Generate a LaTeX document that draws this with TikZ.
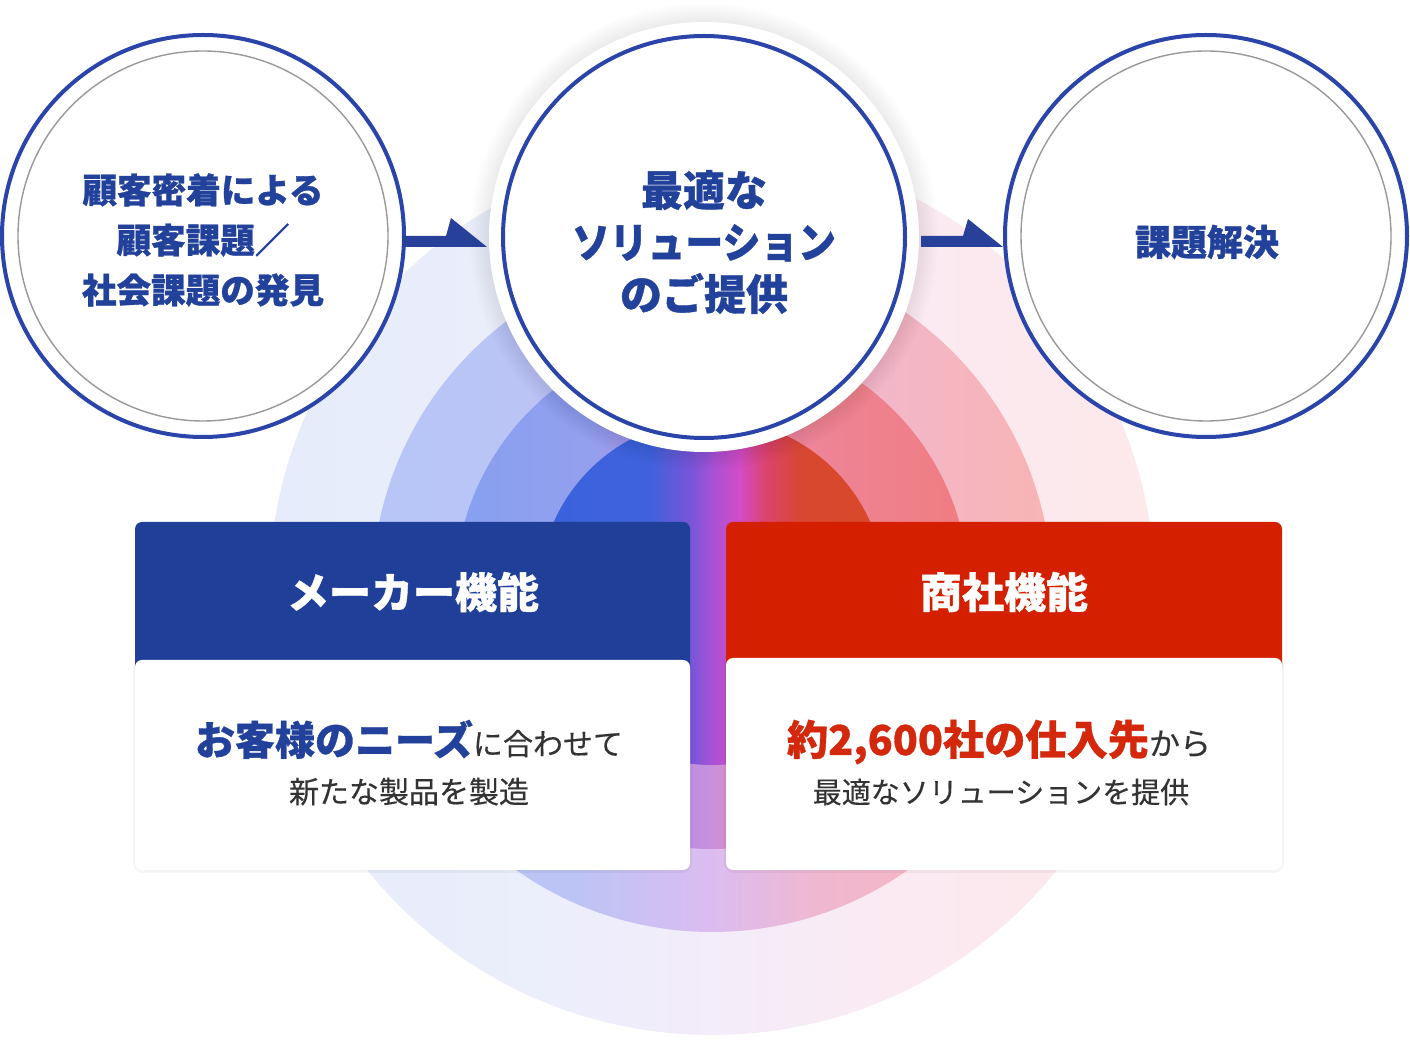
\documentclass[tikz,border=0pt]{standalone}
\usepackage{fontspec}
\setmainfont{Noto Sans CJK JP}
\newfontfamily\jph[BoldFeatures={FakeBold=0.8}]{Noto Sans CJK JP}
\newfontfamily\jpm[FakeBold=0.3]{Noto Sans CJK JP}
\usetikzlibrary{calc}

\definecolor{ringblue}{HTML}{2A44AA}
\definecolor{txtblue}{HTML}{21419A}
\definecolor{arrowblue}{HTML}{27409A}
\definecolor{hdrblue}{HTML}{1F3F99}
\definecolor{hdrred}{HTML}{D41F00}
\definecolor{txtred}{HTML}{D4280C}
\definecolor{txtgray}{HTML}{333333}

\definecolor{rA1}{HTML}{E6ECFB}
\definecolor{rA2}{HTML}{EBEEFB}
\definecolor{rA3}{HTML}{F3ECFA}
\definecolor{rA4}{HTML}{FBEAF2}
\definecolor{rA5}{HTML}{FDE8EA}

\definecolor{rB1}{HTML}{B6C6F6}
\definecolor{rB2}{HTML}{BCC4F5}
\definecolor{rB3}{HTML}{DCBCF0}
\definecolor{rB4}{HTML}{F0B8D0}
\definecolor{rB5}{HTML}{F8B4B4}

\definecolor{rC1}{HTML}{86A0F0}
\definecolor{rC2}{HTML}{93A0EE}
\definecolor{rC3}{HTML}{B890E0}
\definecolor{rC4}{HTML}{C890DC}
\definecolor{rC5}{HTML}{E48CB8}
\definecolor{rC6}{HTML}{EE8498}
\definecolor{rC7}{HTML}{F07C80}

\definecolor{rD1}{HTML}{3A62DC}
\definecolor{rD2}{HTML}{3F62DC}
\definecolor{rD3}{HTML}{7856D8}
\definecolor{rD4}{HTML}{A852D6}
\definecolor{rD5}{HTML}{D24CC6}
\definecolor{rD6}{HTML}{DC4468}
\definecolor{rD7}{HTML}{D8472F}
\definecolor{rD8}{HTML}{D84A2A}

\pgfdeclarehorizontalshading{ringA}{100bp}{color(0bp)=(rA1); color(25bp)=(rA1); color(40bp)=(rA2); color(50bp)=(rA3); color(60bp)=(rA4); color(75bp)=(rA5); color(100bp)=(rA5)}
\pgfdeclarehorizontalshading{ringB}{100bp}{color(0bp)=(rB1); color(25bp)=(rB1); color(40bp)=(rB2); color(50bp)=(rB3); color(58bp)=(rB4); color(75bp)=(rB5); color(100bp)=(rB5)}
\pgfdeclarehorizontalshading{ringC}{100bp}{color(0bp)=(rC1); color(25bp)=(rC1); color(38bp)=(rC2); color(47bp)=(rC3); color(50bp)=(rC4); color(53bp)=(rC5); color(60bp)=(rC6); color(75bp)=(rC7); color(100bp)=(rC7)}
\pgfdeclarehorizontalshading{ringD}{100bp}{color(0bp)=(rD1); color(25bp)=(rD1); color(41bp)=(rD2); color(47bp)=(rD3); color(50bp)=(rD4); color(54bp)=(rD5); color(58bp)=(rD6); color(63bp)=(rD7); color(75bp)=(rD8); color(100bp)=(rD8)}

\begin{document}
\begin{tikzpicture}[x=0.5pt,y=-0.5pt,
  sidecirc/.style={circle, draw=ringblue, line width=2pt, fill=white, minimum size=201pt, inner sep=0pt, outer sep=0pt},
  innercirc/.style={circle, draw=black!40, line width=0.7pt, minimum size=185pt, inner sep=0pt, outer sep=0pt},
  halo/.style={circle, fill=white, minimum size=215pt, inner sep=0pt, outer sep=0pt},
  maincirc/.style={circle, draw=ringblue, line width=2pt, minimum size=201pt, inner sep=0pt, outer sep=0pt},
  circtext/.style={align=center, text=txtblue, inner sep=0pt},
  hdrtext/.style={text=white, inner sep=0pt, font=\jph\fontsize{21pt}{25pt}\selectfont\bfseries},
  bodytext/.style={text=txtgray, inner sep=0pt, anchor=base},
  arrowfill/.style={fill=arrowblue}
]
\useasboundingbox (0,0) rectangle (1410,1042);
\fill[white] (0,0) rectangle (1410,1042);

% concentric rings
\coordinate (rc) at (712,592);
\shade[shading=ringA] (rc) circle[radius=221.5pt];
\shade[shading=ringB] (rc) circle[radius=170pt];
\shade[shading=ringC] (rc) circle[radius=128.5pt];
\shade[shading=ringD] (rc) circle[radius=86.5pt];

% side circles
\node[sidecirc] (c1) at (203,236) {};
\node[innercirc] (g1) at (203,236) {};
\node[circtext, font=\jph\fontsize{17.3pt}{25pt}\selectfont\bfseries] (t1) at (203,240) {顧客密着による\\顧客課題／\\社会課題の発見};

\node[sidecirc] (c3) at (1206,236) {};
\node[innercirc] (g3) at (1206,236) {};
\node[circtext, font=\jph\fontsize{18pt}{22pt}\selectfont\bfseries] (t3) at (1207,242) {課題解決};

% center circle glow
\coordinate (cc) at (704,237);
\foreach \r in {108,109,...,117} {\fill[black, opacity=0.007] (cc) circle[radius=\r pt];}
\node[halo] (c2h) at (cc) {};

% arrows
\fill[arrowfill] (c1.east) ++(-2,0) -- ++(44,0) -- ++(5,-18) -- ++(36,29) -- ++(-85,0) -- cycle;
\fill[arrowfill] (c2h.east) ++(2,-1) -- ++(42,0) -- ++(5,-17) -- ++(35,28) -- ++(-82,0) -- cycle;

\node[maincirc] (c2) at (cc) {};
\node[circtext, font=\jph\fontsize{21pt}{26pt}\selectfont\bfseries] (t2) at (704,242) {最適な\\\scalebox{0.9}[1]{ソリューション}\\のご提供};

% left box
\fill[black, opacity=0.04, rounded corners=5pt] (133,658) rectangle (692,873);
\fill[hdrblue, rounded corners=3.5pt] (135,522) rectangle (690,675);
\fill[white, rounded corners=3.5pt] (135,660) rectangle (690,870);
\node[hdrtext] (mk) at (413,592) {メーカー機能};
\node[bodytext] (mb1) at (409,755) {{\color{txtblue}\jph\fontsize{20pt}{24pt}\selectfont\bfseries お客様のニーズ}{\jpm\fontsize{15pt}{18pt}\selectfont に合わせて}};
\node[bodytext, font=\jpm\fontsize{15pt}{18pt}\selectfont] (mb2) at (409,803) {新たな製品を製造};

% right box
\fill[black, opacity=0.04, rounded corners=5pt] (724,656) rectangle (1284,873);
\fill[hdrred, rounded corners=3.5pt] (726,522) rectangle (1282,675);
\fill[white, rounded corners=3.5pt] (726,658) rectangle (1282,870);
\node[hdrtext] (sh) at (1004,592) {商社機能};
\node[bodytext] (sb1) at (999,755) {{\color{txtred}\jph\fontsize{20.6pt}{24pt}\selectfont\bfseries 約2,600社の仕入先}{\jpm\fontsize{15.5pt}{18pt}\selectfont から}};
\node[bodytext, font=\jpm\fontsize{14.5pt}{18pt}\selectfont] (sb2) at (1001,803) {最適なソリューションを提供};
\end{tikzpicture}
\end{document}
